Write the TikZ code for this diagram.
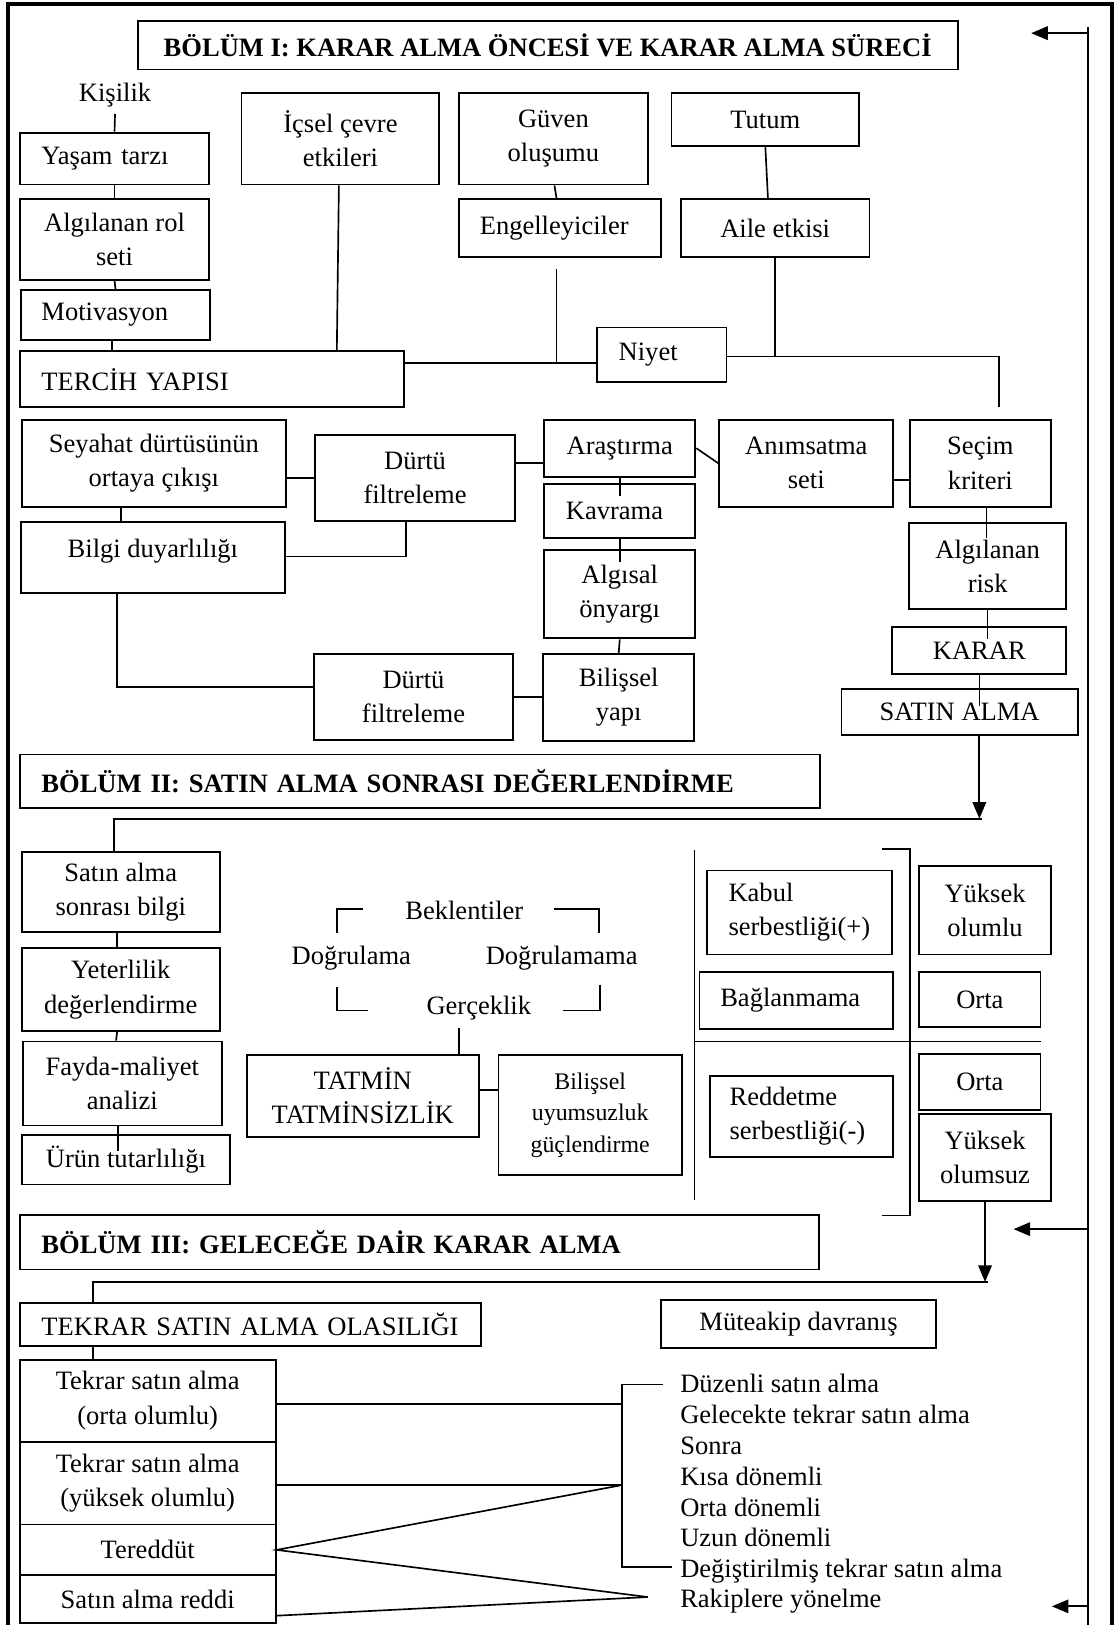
\documentclass[tikz,border=0pt]{standalone}
\usepackage{fontspec}
\setmainfont{Liberation Serif}
\usetikzlibrary{arrows.meta}

% box from corner (x1,y1) to corner (x2,y2), text centred
\newcommand\boxat[7][]{%
  \pgfmathsetmacro\myBW{(#5-#3)*0.5}%
  \pgfmathsetmacro\myBH{(#6-#4)*0.5}%
  \node[bx,minimum width=\myBW pt,minimum height=\myBH pt,#1] (#2) at ({(#3+#5)/2},{(#4+#6)/2}) {#7};}
% box with left aligned text, #7 = left padding
\newcommand\lboxat[8][]{%
  \pgfmathsetmacro\myBW{(#5-#3)*0.5}%
  \pgfmathsetmacro\myBH{(#6-#4)*0.5}%
  \pgfmathsetmacro\myTW{(#5-#3-2*#7)*0.5}%
  \node[bx,align=left,text width=\myTW pt,minimum width=\myBW pt,minimum height=\myBH pt,#1] (#2) at ({(#3+#5)/2},{(#4+#6)/2}) {#8};}

\begin{document}
\begin{tikzpicture}[x=0.5pt,y=-0.5pt,
  every node/.style={font=\fontsize{12.8}{16.5}\selectfont},
  bx/.style={draw,line width=0.9pt,rectangle,inner sep=0pt,align=center},
  hd/.style={font=\fontsize{12.8}{16.5}\selectfont\bfseries},
  ln/.style={line width=0.8pt},
  arr/.style={line width=0.9pt,-{Triangle[length=8pt,width=6.5pt]}},
  lst/.style={inner sep=0pt,anchor=base west}]
\useasboundingbox (0,0) rectangle (1077,1568);

% outer frame and feedback line
\draw[line width=1.9pt] (8,1575) -- (8,4) -- (1073,4) -- (1073,1575);
\draw[line width=1.1pt] (1050,26) -- (1050,1575);
\coordinate (f1) at (1050,32);   \coordinate (a1) at (995,32);
\coordinate (f2) at (1050,1186); \coordinate (a2) at (978,1186);
\coordinate (f3) at (1050,1550); \coordinate (a3) at (1015,1550);
\draw[arr] (f1) -- (a1);
\draw[arr] (f2) -- (a2);
\draw[arr] (f3) -- (a3);

%% ---------------- Part I ----------------
\boxat[hd]{t1}{133}{20}{924}{67}{BÖLÜM I: KARAR ALMA ÖNCESİ VE KARAR ALMA SÜRECİ}

\node[inner sep=3pt] (kis) at (111,92) {Kişilik};
\lboxat{yas}{19}{128}{202}{178}{21}{Yaşam tarzı}
\boxat{alr}{19}{192}{202}{270}{Algılanan rol\\seti}
\lboxat{mot}{20}{280}{203}{328}{20}{Motivasyon}
\lboxat{ter}{19}{339}{390}{393}{21}{TERCİH YAPISI}
\boxat{ice}{233}{90}{424}{178}{İçsel çevre\\etkileri}
\boxat{guv}{443}{90}{625}{178}{Güven\\oluşumu}
\lboxat{eng}{443}{192}{638}{248}{20}{Engelleyiciler}
\boxat{tut}{648}{90}{829}{141}{Tutum}
\boxat{ail}{657}{192}{839}{248}{Aile etkisi}
\lboxat{niy}{576}{316}{701}{369}{21}{Niyet}

\draw[ln] (kis.south) -- (yas.north);
\draw[ln] (yas.south) -- (alr.north);
\draw[ln] (alr.south) -- (mot.north);
\draw[ln] (mot.south -| 108,0) -- (ter.north -| 108,0);
\draw[ln] (ice.south -| 327,0) -- (ter.north -| 325,0);
\draw[ln] (guv.south -| 535,0) -- (eng.north -| 537,0);
\coordinate (hTN) at (537,350);
\coordinate (eTop) at (537,260);
\draw[ln] (ter.east |- hTN) -- (niy.west |- hTN);
\draw[ln] (eTop) -- (hTN);
\draw[ln] (tut.south) -- (ail.north -| 741,0);
\coordinate (hNR) at (964,344);
\coordinate (sTop) at (964,393);
\draw[ln] (niy.east |- hNR) -- (hNR) -- (sTop);
\draw[ln] (ail.south) -- (ail.south |- hNR);

\boxat{sey}{21}{405}{276}{489}{Seyahat dürtüsünün\\ortaya çıkışı}
\boxat{df1}{304}{420}{497}{503}{Dürtü\\filtreleme}
\boxat[text depth=9pt]{bil}{20}{504}{275}{572}{Bilgi duyarlılığı}
\boxat{df2}{303}{631}{495}{714}{Dürtü\\filtreleme}
\boxat{ara}{525}{405}{671}{460}{Araştırma}
\lboxat{kav}{525}{467}{671}{519}{21}{Kavrama}
\boxat{aon}{525}{531}{671}{616}{Algısal\\önyargı}
\boxat{bis}{524}{631}{670}{715}{Bilişsel\\yapı}
\boxat{ani}{694}{405}{862}{489}{Anımsatma\\seti}
\boxat{sec}{878}{405}{1014}{489}{Seçim\\kriteri}
\boxat{ris}{877}{505}{1029}{588}{Algılanan\\risk}
\boxat{kar}{861}{605}{1029}{650}{KARAR}
\boxat{sat}{812}{665}{1040}{709}{SATIN ALMA}

\draw[ln] (sey.east |- df1.west) -- (df1.west);
\draw[ln] (df1.east |- 0,447) -- (ara.west |- 0,447);
\draw[ln] (sey.south -| 117,0) -- (bil.north -| 117,0);
\draw[ln] (bil.east |- 0,537) -| (df1.south -| 392,0);
\draw[ln] (bil.south -| 113,0) |- (df2.west |- 0,663);
\draw[ln] (df2.east) -- (df2.east -| bis.west);
\draw[ln] (ara.south) -- ++(0,18);
\draw[ln] (kav.south) -- ++(0,22);
\draw[ln] (aon.south) -- (bis.north);
\draw[ln] (ara.east) -- (ani.west);
\draw[ln] (ani.east |- 0,463) -- (sec.west |- 0,463);
\draw[ln] (sec.south -| 952,0) -- ++(0,29);
\draw[ln] (ris.south) -- ++(0,28);
\draw[ln] (kar.south) -- ++(0,30);
\coordinate (h2) at (948,790);
\draw[arr] (sat.south -| kar.south) -- (h2 -| kar.south);

%% ---------------- Part II ----------------
\lboxat[hd]{b2}{19}{728}{791}{780}{21}{BÖLÜM II: SATIN ALMA SONRASI DEĞERLENDİRME}

\boxat{sab}{21}{822}{212}{899}{Satın alma\\sonrası bilgi}
\boxat{yet}{21}{915}{212}{995}{Yeterlilik\\değerlendirme}
\boxat{fay}{22}{1005}{214}{1086}{Fayda-maliyet\\analizi}
\boxat{urt}{21}{1095}{222}{1143}{Ürün tutarlılığı}
\draw[ln] (sab.north -| 110,0) |- (h2);
\draw[ln] (sab.south -| 113,0) -- (yet.north -| 113,0);
\draw[ln] (yet.south -| 113,0) -- (fay.north -| 112,0);
\draw[ln] (fay.south -| 114,0) -- ++(0,24);

\node (bek) at (448,878) {Beklentiler};
\node (dog) at (339,925) {Doğrulama};
\node (dgm) at (542,925) {Doğrulamama};
\node (ger) at (462,973) {Gerçeklik};
\draw[ln] (350,877) -- (325,877) -- (325,900);
\draw[ln] (535,877) -- (578,877) -- (578,900);
\draw[ln] (325,952) -- (325,975) -- (355,975);
\draw[ln] (579,950) -- (579,975) -- (543,975);

\boxat{tat}{238}{1018}{462}{1097}{TATMİN\\TATMİNSİZLİK}
\boxat[font=\fontsize{11.5}{15.25}\selectfont]{buy}{481}{1018}{658}{1134}{Bilişsel\\uyumsuzluk\\güçlendirme}
\draw[ln] (ger.south -| 443,0) -- (tat.north -| 443,0);
\draw[ln] (tat.east |- 0,1052) -- (buy.west |- 0,1052);

% quadrants of acceptance / rejection
\draw[ln] (670,820) -- (670,1158);
\draw[ln] (670,1005) -- (1004,1005);
\draw[ln] (851,819) -- (878,819) -- (878,1173) -- (851,1173);

\lboxat{kab}{682}{840}{861}{921}{21}{Kabul\\serbestliği(+)}
\lboxat{bag}{675}{938}{862}{993}{20}{Bağlanmama}
\lboxat{red}{685}{1038}{862}{1116}{19}{Reddetme\\serbestliği(-)}
\boxat{yol}{887}{836}{1014}{921}{Yüksek\\olumlu}
\boxat{or1}{887}{938}{1004}{991}{Orta}
\boxat{or2}{887}{1017}{1004}{1071}{Orta}
\boxat{yos}{887}{1075}{1014}{1159}{Yüksek\\olumsuz}

%% ---------------- Part III ----------------
\lboxat[hd]{b3}{19}{1172}{790}{1225}{21}{BÖLÜM III: GELECEĞE DAİR KARAR ALMA}

\lboxat{tso}{19}{1257}{464}{1299}{21}{TEKRAR SATIN ALMA OLASILIĞI}
\boxat{mut}{638}{1254}{903}{1301}{Müteakip davranış}
\boxat{tor}{19}{1312}{266}{1391}{Tekrar satın alma\\(orta olumlu)}
\boxat{tyk}{19}{1391}{266}{1471}{Tekrar satın alma\\(yüksek olumlu)}
\boxat[fill=white]{trd}{19}{1471}{266}{1520}{Tereddüt}
\boxat[fill=white]{srd}{19}{1520}{266}{1566}{Satın alma reddi}

\coordinate (h3) at (953,1237);
\draw[arr] (yos.south) -- (yos.south |- h3);
\draw[ln] (h3) -| (tso.north -| 90,0);
\draw[ln] (tso.south -| 90,0) -- (tor.north -| 90,0);

\node[lst] (l1) at (656,1344) {Düzenli satın alma};
\node[lst] (l2) at (656,1374) {Gelecekte tekrar satın alma};
\node[lst] (l3) at (656,1403) {Sonra};
\node[lst] (l4) at (656,1433) {Kısa dönemli};
\node[lst] (l5) at (656,1463) {Orta dönemli};
\node[lst] (l6) at (656,1492) {Uzun dönemli};
\node[lst] (l7) at (656,1522) {Değiştirilmiş tekrar satın alma};
\node[lst] (l8) at (656,1551) {Rakiplere yönelme};

\coordinate (bT) at (600,1336);
\coordinate (bB) at (600,1512);
\coordinate (bo) at (600,1355);
\coordinate (byk) at (600,1433);
\coordinate (rk) at (625,1541);
\draw[ln] (bT -| l1.west) ++(-16,0) -- (bT) -- (bB) -- ++(48,0);
\draw[ln] (tor.east |- bo) -- (bo);
\draw[ln] (tyk.east |- byk) -- (byk);
\draw[ln] (byk) -- (trd.east) -- (rk);
\draw[ln] (srd.east |- 0,1559) -- (rk);
\end{tikzpicture}
\end{document}
